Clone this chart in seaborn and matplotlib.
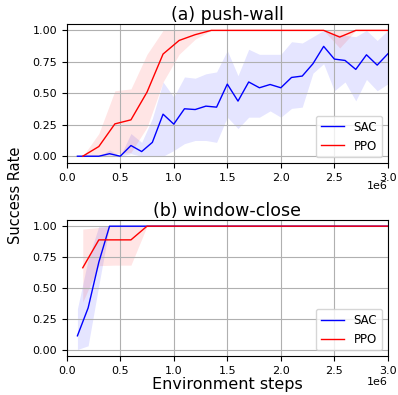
import numpy as np
import pandas as pd
import matplotlib
matplotlib.use("Agg")
import matplotlib.pyplot as plt
import seaborn as sns

# ---- data (x in environment steps) ----
sac_x = [0.1e6, 0.2e6, 0.3e6, 0.4e6, 0.5e6, 0.6e6, 0.7e6, 0.8e6, 0.9e6, 1.0e6,
         1.1e6, 1.2e6, 1.3e6, 1.4e6, 1.5e6, 1.6e6, 1.7e6, 1.8e6, 1.9e6, 2.0e6,
         2.1e6, 2.2e6, 2.3e6, 2.4e6, 2.5e6, 2.6e6, 2.7e6, 2.8e6, 2.9e6, 3.0e6]
ppo_x = [0.15e6, 0.3e6, 0.45e6, 0.6e6, 0.75e6, 0.9e6, 1.05e6, 1.2e6, 1.35e6, 1.5e6,
         1.65e6, 1.8e6, 1.95e6, 2.1e6, 2.25e6, 2.4e6, 2.55e6, 2.7e6, 2.85e6, 3.0e6]

# (a) push-wall
pw_sac_mean = [0.0, 0.0, 0.0, 0.02, 0.0, 0.085, 0.037, 0.11, 0.334, 0.255,
               0.377, 0.371, 0.398, 0.39, 0.573, 0.438, 0.59, 0.544, 0.57, 0.544,
               0.626, 0.637, 0.735, 0.873, 0.772, 0.761, 0.69, 0.806, 0.724, 0.814]
pw_sac_low = [0.0, 0.0, 0.0, 0.0, 0.0, 0.02, 0.0, 0.0, 0.0, 0.045,
              0.1, 0.125, 0.125, 0.11, 0.31, 0.22, 0.31, 0.31, 0.36, 0.31,
              0.38, 0.39, 0.66, 0.735, 0.52, 0.59, 0.44, 0.61, 0.52, 0.575]
pw_sac_high = [0.0, 0.0, 0.0, 0.05, 0.0, 0.18, 0.11, 0.3, 0.59, 0.47,
               0.63, 0.62, 0.655, 0.67, 0.84, 0.64, 0.85, 0.81, 0.81, 0.81,
               0.91, 0.9, 0.95, 1.0, 0.97, 0.96, 0.95, 1.0, 0.92, 1.0]
pw_ppo_mean = [0.0, 0.077, 0.257, 0.289, 0.509, 0.812, 0.92, 0.966, 1.0, 1.0,
               1.0, 1.0, 1.0, 1.0, 1.0, 1.0, 0.947, 1.0, 1.0, 1.0]
pw_ppo_low = [0.0, 0.0, 0.02, 0.03, 0.23, 0.59, 0.81, 0.93, 1.0, 1.0,
              1.0, 1.0, 1.0, 1.0, 1.0, 1.0, 0.86, 1.0, 1.0, 1.0]
pw_ppo_high = [0.0, 0.18, 0.52, 0.535, 0.81, 1.0, 1.0, 1.0, 1.0, 1.0,
               1.0, 1.0, 1.0, 1.0, 1.0, 1.0, 1.0, 1.0, 1.0, 1.0]

# (b) window-close
wc_sac_mean = [0.111, 0.337, 0.708] + [1.0] * 27
wc_sac_low = [0.0, 0.03, 0.52] + [1.0] * 27
wc_sac_high = [0.33, 0.73, 1.0] + [1.0] * 27
wc_ppo_mean = [0.663, 0.889, 0.889, 0.889] + [1.0] * 16
wc_ppo_low = [0.385, 0.68, 0.684, 0.684] + [1.0] * 16
wc_ppo_high = [0.976, 0.99, 1.0, 1.0] + [1.0] * 16

titles = ["(a) push-wall", "(b) window-close"]
x_ticks = [0, 0.5e6, 1.0e6, 1.5e6, 2.0e6, 2.5e6, 3.0e6]
x_tick_labels = ["0.0", "0.5", "1.0", "1.5", "2.0", "2.5", "3.0"]
y_ticks = [0, 0.25, 0.5, 0.75, 1.0]
y_tick_labels = ["0.00", "0.25", "0.50", "0.75", "1.00"]
tasks = [
    (pw_sac_mean, pw_sac_low, pw_sac_high, pw_ppo_mean, pw_ppo_low, pw_ppo_high),
    (wc_sac_mean, wc_sac_low, wc_sac_high, wc_ppo_mean, wc_ppo_low, wc_ppo_high),
]

plt.rcParams['font.family'] = ['DejaVu Sans']
fig = plt.figure(figsize=(3.98, 3.95), dpi=100)
ax_top = fig.add_axes([0.1676, 0.587, 0.807, 0.352])
ax_bot = fig.add_axes([0.1676, 0.098, 0.807, 0.345])
sci_y = [-0.165, -0.19]

for ax, title, (sm, sl, sh, pm, pl, ph), sy in zip([ax_top, ax_bot], titles, tasks, sci_y):
    df_s = pd.DataFrame({"x": sac_x, "y": sm})
    df_p = pd.DataFrame({"x": ppo_x, "y": pm})
    ax.fill_between(sac_x, sl, sh, color="blue", alpha=0.1, linewidth=0)
    ax.fill_between(ppo_x, pl, ph, color="red", alpha=0.1, linewidth=0)
    sns.lineplot(data=df_s, x="x", y="y", ax=ax, color="blue", lw=1.0, label="SAC")
    sns.lineplot(data=df_p, x="x", y="y", ax=ax, color="red", lw=1.0, label="PPO")
    ax.set_xlim(0, 3.0e6)
    ax.set_ylim(-0.055, 1.05)
    ax.set_xticks(x_ticks)
    ax.set_xticklabels(x_tick_labels)
    ax.set_yticks(y_ticks)
    ax.set_yticklabels(y_tick_labels)
    ax.grid(True, color="#b0b0b0", lw=0.8)
    ax.tick_params(labelsize=8)
    ax.text(1.0, sy, "1e6", transform=ax.transAxes, ha="right", va="center",
            fontsize=8)
    ax.set_title(title, fontsize=12.5, pad=3)
    ax.set_xlabel("")
    ax.set_ylabel("")
    ax.legend(loc="lower right", fontsize=8.5)

ax_bot.set_xlabel("Environment steps", fontsize=11.5, labelpad=1)
fig.text(0.04, 0.505, "Success Rate", rotation=90, fontsize=10.5,
         va="center", ha="center")

fig.savefig("out.png", dpi=100)
